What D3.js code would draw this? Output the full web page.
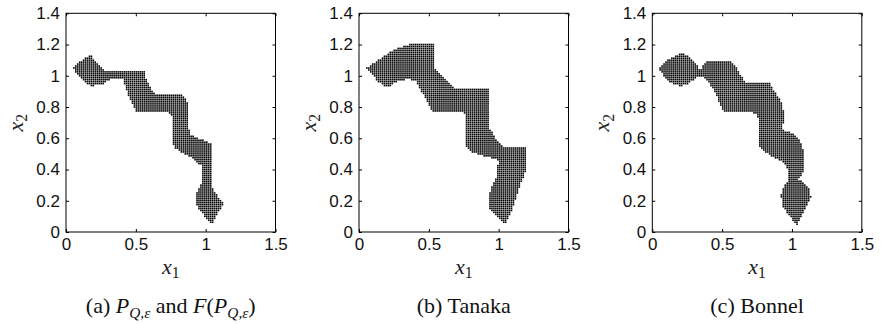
<!DOCTYPE html>
<html><head><meta charset="utf-8">
<script src="https://cdn.jsdelivr.net/npm/d3@7"></script>
<style>body{margin:0;background:#fff}</style>
</head><body><svg id="c" width="882" height="324"></svg>
<script>
// ---------- data ----------
const xTicks = [0, 0.5, 1, 1.5];
const yTicks = [0, 0.2, 0.4, 0.6, 0.8, 1, 1.2, 1.4];
const xDomain = [0, 1.5];
const yDomain = [0, 1.4];
const panelNames = ["a", "b", "c"];
const captionTexts = ["P_{Q,ε} and F(P_{Q,ε})", "Tanaka", "Bonnel"];
// grid resolution of the sampled points (data units)
const gridStepX = 0.014;
const gridStepY = 0.0125;
// boundaries of the point regions (x1, x2)
const regionA = [
[0.048,1.048],[0.09,1.085],[0.13,1.11],[0.178,1.13],[0.21,1.095],[0.245,1.06],[0.28,1.035],
[0.565,1.035],[0.565,0.995],[0.60,0.935],[0.635,0.885],[0.82,0.88],[0.855,0.86],[0.87,0.82],
[0.87,0.68],[0.895,0.625],[0.95,0.6],[1.037,0.565],[1.037,0.30],[1.07,0.25],[1.10,0.21],
[1.128,0.182],[1.095,0.13],[1.065,0.085],[1.045,0.045],[1.015,0.075],[0.98,0.115],[0.945,0.155],
[0.925,0.19],[0.93,0.245],[0.955,0.285],[0.973,0.31],[0.973,0.42],[0.935,0.45],[0.89,0.48],
[0.83,0.51],[0.78,0.535],[0.765,0.56],[0.765,0.73],[0.745,0.76],[0.70,0.775],[0.50,0.775],
[0.475,0.82],[0.45,0.87],[0.43,0.92],[0.41,0.977],[0.316,0.977],[0.28,0.955],[0.24,0.94],
[0.18,0.935],[0.13,0.96],[0.09,1.0]
];
const regionB = [
[0.05,1.048],[0.10,1.08],[0.15,1.11],[0.21,1.145],[0.27,1.176],[0.34,1.197],[0.413,1.208],
[0.536,1.208],[0.536,1.05],[0.60,0.99],[0.675,0.925],[0.925,0.925],[0.925,0.674],[0.98,0.60],
[1.032,0.546],[1.204,0.546],[1.204,0.42],[1.187,0.376],[1.152,0.29],[1.104,0.162],[1.06,0.07],
[1.044,0.045],[1.00,0.09],[0.96,0.12],[0.937,0.145],[0.925,0.226],[0.949,0.29],[0.985,0.354],
[0.997,0.461],[0.913,0.482],[0.806,0.514],[0.77,0.546],[0.77,0.749],[0.735,0.77],[0.52,0.775],
[0.484,0.845],[0.44,0.91],[0.40,0.973],[0.33,0.977],[0.27,0.962],[0.222,0.935],[0.174,0.935],
[0.127,0.973]
];
const regionC = [
[0.043,1.048],[0.08,1.08],[0.114,1.103],[0.17,1.13],[0.221,1.148],[0.265,1.12],[0.304,1.09],
[0.34,1.037],[0.37,1.07],[0.40,1.097],[0.554,1.1],[0.60,1.058],[0.63,1.01],[0.66,0.962],
[0.839,0.955],[0.862,0.92],[0.887,0.888],[0.922,0.835],[0.946,0.76],[0.934,0.653],[1.005,0.632],
[1.053,0.589],[1.081,0.525],[1.088,0.397],[1.065,0.354],[1.041,0.333],[1.076,0.322],[1.124,0.28],
[1.136,0.226],[1.112,0.173],[1.08,0.12],[1.053,0.077],[1.04,0.045],[1.005,0.077],[0.97,0.115],
[0.934,0.162],[0.922,0.237],[0.946,0.3],[0.969,0.322],[0.969,0.408],[0.934,0.45],[0.862,0.482],
[0.803,0.514],[0.768,0.546],[0.768,0.674],[0.755,0.738],[0.732,0.76],[0.696,0.775],[0.506,0.775],
[0.47,0.85],[0.435,0.92],[0.376,0.984],[0.34,0.999],[0.292,0.973],[0.25,0.945],[0.197,0.935],
[0.150,0.95],[0.104,0.973]
];
const regions = [regionA, regionB, regionC];

// ---------- layout ----------
const svg = d3.select("#c");
const lefts = [66, 359, 652.3];
const pw = 209.5, plotTop = 13.3, plotBottom = 232;
const tickFont = "'Liberation Sans', Arial, Helvetica, sans-serif";
const serif = "'Liberation Serif', 'Times New Roman', serif";

function addMath(sel, base, sub, size) {
  sel.append("tspan").attr("font-style", "italic").text(base);
  sel.append("tspan").attr("font-size", size * 0.72).attr("dy", size * 0.2).text(sub);
}

lefts.forEach((L, i) => {
  const x = d3.scaleLinear().domain(xDomain).range([L, L + pw]);
  const y = d3.scaleLinear().domain(yDomain).range([plotBottom, plotTop]);
  const g = svg.append("g");

  // points of the region on a regular grid
  const poly = regions[i];
  const pts = [];
  const nx = Math.round((xDomain[1] - xDomain[0]) / gridStepX);
  const ny = Math.round((yDomain[1] - yDomain[0]) / gridStepY);
  for (let a = 0; a <= nx; a++) for (let b = 0; b <= ny; b++) {
    const p = [a * gridStepX, b * gridStepY];
    if (d3.polygonContains(poly, p)) pts.push(p);
  }
  g.append("g").selectAll("rect").data(pts).join("rect")
    .attr("x", d => x(d[0]) - 0.8).attr("y", d => y(d[1]) - 0.8)
    .attr("width", 1.6).attr("height", 1.6)
    .attr("fill", "#000");

  // axes (ticks inward on all sides)
  const fmt = d3.format("");
  g.append("g").attr("transform", `translate(0,${plotBottom})`)
    .call(d3.axisBottom(x).tickValues(xTicks).tickFormat(fmt).tickSizeInner(-3).tickSizeOuter(0).tickPadding(6));
  g.append("g").attr("transform", `translate(${L},0)`)
    .call(d3.axisLeft(y).tickValues(yTicks).tickFormat(fmt).tickSizeInner(-3).tickSizeOuter(0).tickPadding(6));
  g.append("g").attr("transform", `translate(0,${plotTop})`)
    .call(d3.axisTop(x).tickValues(xTicks).tickFormat("").tickSizeInner(-3).tickSizeOuter(0));
  g.append("g").attr("transform", `translate(${L + pw},0)`)
    .call(d3.axisRight(y).tickValues(yTicks).tickFormat("").tickSizeInner(-3).tickSizeOuter(0));
  g.selectAll(".domain").remove();
  g.selectAll(".tick line").attr("stroke", "#000");
  g.selectAll(".tick text").attr("font-family", tickFont).attr("font-size", 17).attr("fill", "#111");
  g.append("rect").attr("x", L).attr("y", plotTop).attr("width", pw).attr("height", plotBottom - plotTop)
    .attr("fill", "none").attr("stroke", "#000").attr("stroke-width", 1);

  // axis labels
  const xl = g.append("text").attr("x", L + pw / 2).attr("y", 274).attr("text-anchor", "middle")
    .attr("font-family", serif).attr("font-size", 22).attr("fill", "#222");
  addMath(xl, "x", "1", 22);
  const yl = g.append("text").attr("transform", `translate(${L - 43},${(plotTop + plotBottom) / 2}) rotate(-90)`)
    .attr("text-anchor", "middle").attr("font-family", serif).attr("font-size", 22).attr("fill", "#222");
  addMath(yl, "x", "2", 22);

  // caption
  const s = 22;
  const cap = g.append("text").attr("x", L + pw / 2).attr("y", 313).attr("text-anchor", "middle")
    .attr("font-family", serif).attr("font-size", s).attr("fill", "#111");
  cap.append("tspan").text(`(${panelNames[i]}) `);
  if (i === 0) {
    cap.append("tspan").attr("font-style", "italic").text("P");
    cap.append("tspan").attr("font-size", s * 0.7).attr("dy", s * 0.22).attr("font-style", "italic").text("Q,ε");
    cap.append("tspan").attr("dy", -s * 0.22).text(" and ");
    cap.append("tspan").attr("font-style", "italic").text("F");
    cap.append("tspan").text("(");
    cap.append("tspan").attr("font-style", "italic").text("P");
    cap.append("tspan").attr("font-size", s * 0.7).attr("dy", s * 0.22).attr("font-style", "italic").text("Q,ε");
    cap.append("tspan").attr("dy", -s * 0.22).text(")");
  } else {
    cap.append("tspan").text(captionTexts[i]);
  }
});
</script></body></html>
